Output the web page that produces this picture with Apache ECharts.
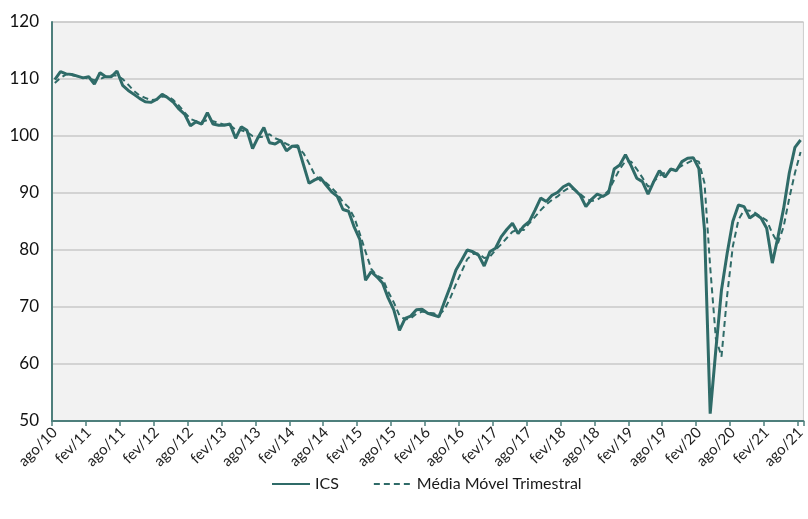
<!DOCTYPE html>
<html>
<head>
<meta charset="utf-8">
<script src="https://cdn.jsdelivr.net/npm/echarts@6/dist/echarts.min.js"></script>
<style>
html,body{margin:0;padding:0;background:#fff;}
#c{width:808px;height:519px;}
</style>
</head>
<body>
<div id="c"></div>
<script>
const monthNames = ['jan','fev','mar','abr','mai','jun','jul','ago','set','out','nov','dez'];
const startYear = 2010, startMonth = 7, monthCount = 133;
const categories = [];
for (let k = 0; k < monthCount; k++) {
  const m = (startMonth + k) % 12;
  const y = startYear + Math.floor((startMonth + k) / 12);
  categories.push(monthNames[m] + '/' + String(y).slice(2));
}

const ics = [
  109.9,111.3,110.9,110.8,110.5,110.2,110.4,109.1,111.1,110.4,110.4,111.4,
  108.9,108.0,107.3,106.6,106.0,105.9,106.4,107.3,106.7,105.9,104.7,103.8,
  101.8,102.5,102.1,104.1,102.1,101.9,101.9,102.1,99.6,101.6,101.0,97.8,
  99.8,101.5,98.8,98.6,99.2,97.4,98.2,98.3,95.0,91.7,92.3,92.7,
  91.4,90.2,89.4,87.1,86.8,84.0,81.8,74.7,76.2,75.3,74.2,71.6,
  69.5,65.9,68.0,68.4,69.5,69.6,68.9,68.6,68.3,71.0,73.6,76.5,
  78.2,80.0,79.7,79.1,77.2,79.7,80.3,82.3,83.6,84.7,82.9,84.2,
  85.0,87.0,89.1,88.5,89.6,90.1,91.1,91.6,90.6,89.6,87.6,88.9,
  89.8,89.4,90.0,94.2,94.9,96.7,94.8,92.6,92.0,89.8,92.0,93.9,
  92.8,94.2,93.9,95.5,96.1,96.2,94.3,83.5,51.3,62.5,73.0,79.4,
  85.0,87.9,87.6,85.6,86.3,85.6,83.8,77.7,82.3,87.3,93.5,98.0,
  99.3
];

const mediaMovel = [
  109.3,110.2,110.8,110.7,110.5,110.2,110.1,109.8,110.0,110.4,110.6,110.6,
  110.0,109.0,107.9,107.1,106.7,106.3,106.4,106.9,107.0,106.3,105.3,104.1,
  103.0,102.6,102.5,102.8,102.6,102.3,102.0,101.9,101.1,101.0,100.7,100.0,
  99.8,99.9,100.3,99.6,99.2,98.6,98.2,98.0,97.0,95.2,93.2,92.2,
  91.8,90.9,89.9,88.4,87.5,85.7,82.8,79.7,76.7,75.5,75.0,72.7,
  70.8,68.5,67.8,68.0,68.8,69.2,69.0,68.9,68.6,69.6,71.6,74.0,
  76.2,78.4,79.3,79.4,78.6,78.8,80.0,81.0,82.1,83.2,83.6,83.5,
  84.7,85.8,87.0,88.0,88.8,89.4,90.3,90.9,90.6,89.8,89.0,88.6,
  88.8,89.5,90.4,92.3,94.2,95.6,95.5,94.2,92.7,91.1,92.0,93.0,
  93.6,94.0,94.2,94.8,95.3,95.8,95.5,91.7,77.0,64.5,61.3,72.0,
  80.6,85.3,87.0,86.9,86.5,85.8,85.2,82.9,81.2,84.1,89.1,93.5,
  97.2
];

const yMin = 50, yMax = 120, yStep = 10;
const lineColor = '#2f6b68';
const axisColor = '#4e7f7c';
const fontFam = 'Lato, "Liberation Sans", sans-serif';

const chart = echarts.init(document.getElementById('c'), null, {renderer:'canvas'});
chart.setOption({
  backgroundColor: '#ffffff',
  animation: false,
  grid: {
    left: 52, right: 2, top: 22, bottom: 98,
    show: true, backgroundColor: '#f2f2f2', borderColor: '#cccccc', borderWidth: 1
  },
  legend: {
    bottom: 22, left: 266,
    itemWidth: 38, itemHeight: 12, itemGap: 34,
    itemStyle: {opacity: 0},
    textStyle: {fontFamily: fontFam, fontSize: 16, color: '#1a1a1a'},
    data: ['ICS', 'Média Móvel Trimestral']
  },
  xAxis: {
    type: 'category',
    data: categories,
    boundaryGap: true,
    axisLine: {lineStyle: {color: axisColor, width: 2}},
    axisTick: {show: true, interval: 5, length: 5, lineStyle: {color: axisColor, width: 1.5}},
    axisLabel: {interval: 5, rotate: 45, fontFamily: fontFam, fontSize: 15, color: '#222', margin: 9},
    splitLine: {show: false}
  },
  yAxis: {
    type: 'value',
    min: yMin, max: yMax, interval: yStep,
    axisLine: {show: true, lineStyle: {color: axisColor, width: 2}},
    axisTick: {show: false},
    axisLabel: {fontFamily: fontFam, fontSize: 17, color: '#111', margin: 13},
    splitLine: {lineStyle: {color: '#c8c8c8', width: 1.5}}
  },
  series: [
    {
      name: 'ICS', type: 'line', data: ics, symbol: 'none',
      lineStyle: {color: lineColor, width: 3}, itemStyle: {color: lineColor}, z: 3
    },
    {
      name: 'Média Móvel Trimestral', type: 'line', data: mediaMovel, symbol: 'none',
      lineStyle: {color: lineColor, width: 2, type: [6, 4]}, itemStyle: {color: lineColor}, z: 2
    }
  ]
});
</script>
</body>
</html>
